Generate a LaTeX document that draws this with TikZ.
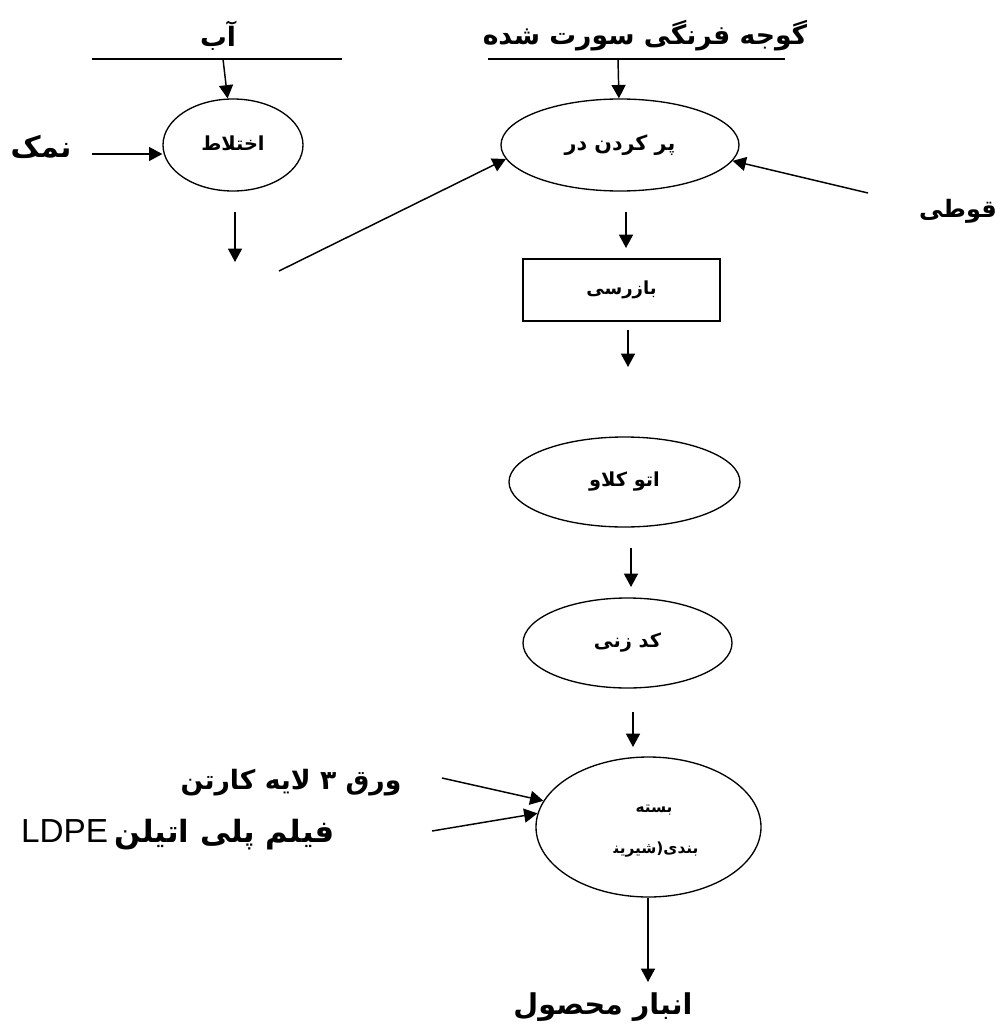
\documentclass[tikz,border=0pt]{standalone}
\usepackage{fontspec}
\setmainfont{Liberation Sans}
\newfontfamily\arabicfont[Script=Arabic]{DejaVu Sans}
\TeXXeTstate=1
\usetikzlibrary{shapes.geometric,arrows.meta}
\tikzset{
  conn/.style={line width=1.1pt},
  arr/.style={line width=1.1pt,-{Triangle[length=10pt,width=10.5pt]}},
  proc/.style={draw,ellipse,line width=1pt,inner sep=0pt},
  boxnode/.style={draw,rectangle,line width=1pt,inner sep=0pt},
  big/.style={font=\arabicfont\bfseries\fontsize{20}{24}\selectfont,inner sep=0pt},
  small/.style={font=\arabicfont\bfseries\fontsize{14.5}{17}\selectfont,inner sep=0pt},
  tiny/.style={font=\arabicfont\bfseries\fontsize{11.5}{14}\selectfont,inner sep=0pt}
}
\begin{document}
\begin{tikzpicture}[x=0.75pt,y=-0.75pt]
\useasboundingbox (0,0) rectangle (1004,1028);
% left branch: water + salt -> mixing
\node[big] (ab) at (218,36) {\beginR آب\endR};
\coordinate (wl) at (92,59);
\coordinate (wr) at (342,59);
\draw[conn] (wl) -- (wr);
\node[proc,small,minimum width=105pt,minimum height=69pt] (mix) at (233,145) {\raisebox{3pt}{\beginR اختلاط\endR}};
\coordinate (wa) at (223,59);
\draw[arr] (wa) -- (mix);
\node[big,font=\arabicfont\bfseries\fontsize{22}{26}\selectfont] (salt) at (41,147) {\beginR نمک\endR};
\coordinate (sa) at (92,154);
\draw[arr] (sa) -- (sa -| mix.west);
\coordinate (m1) at (235,212);
\coordinate (m2) at (235,262);
\draw[arr] (m1) -- (m2);
% filling
\node[big] (tom) at (645,36) {\beginR گوجه فرنگی سورت شده\endR};
\coordinate (tl) at (488,59);
\coordinate (tr) at (785,59);
\draw[conn] (tl) -- (tr);
\node[proc,small,font=\arabicfont\bfseries\fontsize{15.5}{18}\selectfont,minimum width=178.5pt,minimum height=69pt] (fill) at (620,145) {\raisebox{3pt}{\beginR پر کردن در\endR}};
\coordinate (ta) at (618,59);
\draw[arr] (ta) -- (fill);
\coordinate (d1) at (279,271);
\draw[arr] (d1) -- (fill.187);
\node[big,font=\arabicfont\bfseries\fontsize{18}{22}\selectfont] (can) at (958,211) {\beginR قوطی\endR};
\coordinate (ca) at (868,193);
\draw[arr] (ca) -- (fill.352);
\coordinate (f1) at (626,212);
\coordinate (f2) at (626,248);
\draw[arr] (f1) -- (f2);
% inspection
\node[boxnode,small,font=\arabicfont\bfseries\fontsize{13.5}{16}\selectfont,minimum width=147.75pt,minimum height=46.5pt] (insp) at (621.5,290) {\beginR بازرسی\endR};
\coordinate (i1) at (628,330);
\coordinate (i2) at (628,367);
\draw[arr] (i1) -- (i2);
% autoclave
\node[proc,small,minimum width=173.25pt,minimum height=67.5pt] (auto) at (624.5,482) {\beginR اتو کلاو\endR};
\coordinate (a1) at (631,548);
\coordinate (a2) at (631,587);
\draw[arr] (a1) -- (a2);
% coding
\node[proc,small,minimum width=156.75pt,minimum height=67.5pt] (code) at (627.5,643) {\beginR کد زنی\endR};
\coordinate (k1) at (633,712);
\coordinate (k2) at (633,747);
\draw[arr] (k1) -- (k2);
% packaging
\node[proc,minimum width=168.75pt,minimum height=105pt] (pack) at (648.5,827) {};
\node[tiny] (packa) at (654,810) {\beginR بسته\endR};
\node[tiny] (packb) at (656,850) {\beginR بندی(شیرین^^^^200d\endR};
\node[big] (carton) at (291,783) {\beginR ورق ۳ لایه کارتن\endR};
\coordinate (c1) at (442,778);
\draw[arr] (c1) -- (pack.166);
\node[inner sep=0pt] (film) at (178,835) {{\fontsize{25}{29}\selectfont LDPE}\hspace{5pt}{\arabicfont\bfseries\fontsize{23}{27}\selectfont\beginR فیلم پلی اتیلن\endR}};
\coordinate (fl) at (432,831);
\draw[arr] (fl) -- (pack.173);
\coordinate (p2) at (648,982);
\draw[arr] (pack.south -| p2) -- (p2);
\node[big,font=\arabicfont\bfseries\fontsize{21.5}{25}\selectfont] (store) at (603,1007) {\beginR انبار محصول\endR};
\end{tikzpicture}
\end{document}
